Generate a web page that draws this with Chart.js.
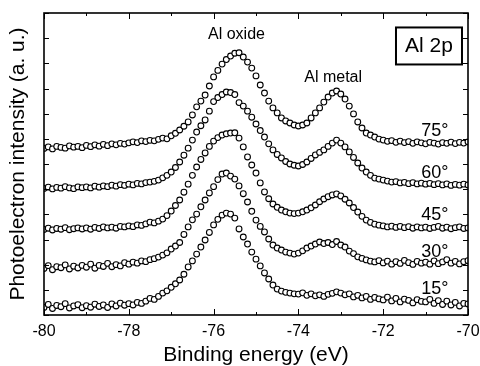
<!DOCTYPE html>
<html>
<head>
<meta charset="utf-8">
<script src="https://cdn.jsdelivr.net/npm/chart.js@4.4.0/dist/chart.umd.min.js"></script>
<style>
  html, body { margin: 0; padding: 0; background: #fff; }
</style>
</head>
<body>
<canvas id="xpsChart" width="480" height="366"></canvas>
<script>
// binding energy grid (eV)
const energy = [
  -80.0, -79.9, -79.8, -79.7, -79.6, -79.5, -79.4, -79.3, -79.2, -79.1,
  -79.0, -78.9, -78.8, -78.7, -78.6, -78.5, -78.4, -78.3, -78.2, -78.1,
  -78.0, -77.9, -77.8, -77.7, -77.6, -77.5, -77.4, -77.3, -77.2, -77.1,
  -77.0, -76.9, -76.8, -76.7, -76.6, -76.5, -76.4, -76.3, -76.2, -76.1,
  -76.0, -75.9, -75.8, -75.7, -75.6, -75.5, -75.4, -75.3, -75.2, -75.1,
  -75.0, -74.9, -74.8, -74.7, -74.6, -74.5, -74.4, -74.3, -74.2, -74.1,
  -74.0, -73.9, -73.8, -73.7, -73.6, -73.5, -73.4, -73.3, -73.2, -73.1,
  -73.0, -72.9, -72.8, -72.7, -72.6, -72.5, -72.4, -72.3, -72.2, -72.1,
  -72.0, -71.9, -71.8, -71.7, -71.6, -71.5, -71.4, -71.3, -71.2, -71.1,
  -71.0, -70.9, -70.8, -70.7, -70.6, -70.5, -70.4, -70.3, -70.2, -70.1,
  -70.0
];

// intensities (a.u., curves offset vertically)
const angle75 = [
  6.62, 6.68, 6.60, 6.70, 6.66, 6.63, 6.72, 6.67, 6.70, 6.65,
  6.74, 6.69, 6.76, 6.71, 6.78, 6.73, 6.80, 6.76, 6.82, 6.79,
  6.84, 6.88, 6.85, 6.92, 6.89, 6.94, 6.92, 6.98, 7.03, 7.00,
  7.12, 7.22, 7.35, 7.50, 7.67, 7.95, 8.27, 8.50, 8.74, 9.10,
  9.46, 9.72, 9.97, 10.15, 10.29, 10.40, 10.42, 10.25, 10.05, 9.81,
  9.50, 9.14, 8.82, 8.50, 8.23, 8.03, 7.83, 7.71, 7.63, 7.55,
  7.51, 7.55, 7.63, 7.83, 8.03, 8.23, 8.46, 8.66, 8.82, 8.90,
  8.78, 8.58, 8.30, 7.99, 7.67, 7.43, 7.23, 7.15, 7.07, 6.99,
  6.95, 6.90, 6.93, 6.86, 6.91, 6.85, 6.89, 6.82, 6.88, 6.84,
  6.80, 6.86, 6.83, 6.79, 6.85, 6.82, 6.87, 6.81, 6.86, 6.83,
  6.88
];
const angle60 = [
  5.03, 5.08, 5.01, 5.07, 5.04, 5.10, 5.05, 5.02, 5.09, 5.06,
  5.09, 5.05, 5.12, 5.08, 5.13, 5.10, 5.16, 5.12, 5.18, 5.15,
  5.20, 5.17, 5.23, 5.21, 5.26, 5.28, 5.31, 5.36, 5.45, 5.55,
  5.68, 5.86, 6.08, 6.35, 6.63, 6.95, 7.27, 7.52, 7.75, 8.10,
  8.48, 8.64, 8.76, 8.86, 8.84, 8.76, 8.44, 8.30, 8.10, 7.86,
  7.59, 7.33, 7.07, 6.80, 6.56, 6.38, 6.24, 6.10, 6.00, 5.95,
  5.92, 5.98, 6.08, 6.22, 6.36, 6.46, 6.56, 6.70, 6.83, 6.95,
  6.83, 6.68, 6.48, 6.26, 6.04, 5.84, 5.68, 5.55, 5.44, 5.40,
  5.36, 5.32, 5.28, 5.30, 5.25, 5.27, 5.22, 5.26, 5.21, 5.24,
  5.20, 5.23, 5.18, 5.22, 5.17, 5.21, 5.15, 5.19, 5.16, 5.20,
  5.17
];
const angle45 = [
  3.40, 3.45, 3.38, 3.44, 3.41, 3.47, 3.39, 3.43, 3.46, 3.42,
  3.46, 3.41, 3.48, 3.44, 3.50, 3.46, 3.49, 3.45, 3.52, 3.50,
  3.54, 3.51, 3.58, 3.56, 3.62, 3.69, 3.66, 3.73, 3.81, 3.95,
  4.13, 4.35, 4.57, 4.88, 5.20, 5.55, 5.88, 6.18, 6.44, 6.70,
  6.91, 7.05, 7.15, 7.20, 7.23, 7.24, 7.03, 6.68, 6.28, 5.96,
  5.64, 5.25, 4.89, 4.62, 4.41, 4.28, 4.17, 4.10, 4.05, 4.03,
  4.05, 4.10, 4.17, 4.26, 4.37, 4.50, 4.61, 4.70, 4.77, 4.81,
  4.73, 4.60, 4.45, 4.27, 4.09, 3.92, 3.77, 3.68, 3.61, 3.57,
  3.54, 3.50, 3.53, 3.48, 3.52, 3.47, 3.51, 3.45, 3.50, 3.46,
  3.49, 3.44, 3.48, 3.52, 3.45, 3.49, 3.43, 3.47, 3.50, 3.44,
  3.46
];
const angle30 = [
  1.85, 1.96, 1.80, 1.92, 1.88, 1.99, 1.83, 1.94, 1.87, 1.97,
  1.90, 2.02, 1.86, 1.97, 1.93, 2.05, 1.92, 2.00, 1.95, 2.08,
  2.02, 2.10, 2.06, 2.15, 2.12, 2.20, 2.24, 2.30, 2.38, 2.47,
  2.62, 2.74, 2.88, 3.20, 3.50, 3.78, 4.01, 4.30, 4.57, 4.85,
  5.10, 5.38, 5.60, 5.64, 5.52, 5.40, 5.13, 4.82, 4.49, 4.12,
  3.77, 3.52, 3.30, 3.02, 2.78, 2.66, 2.58, 2.50, 2.46, 2.42,
  2.46, 2.55, 2.66, 2.74, 2.82, 2.90, 2.84, 2.88, 2.80, 2.92,
  2.78, 2.70, 2.54, 2.44, 2.31, 2.25, 2.19, 2.14, 2.11, 2.16,
  2.07, 2.14, 2.02, 2.12, 2.05, 2.17, 2.08, 2.01, 2.13, 2.06,
  2.10, 2.02, 2.15, 2.04, 2.11, 2.20, 2.06, 2.13, 2.03, 2.12,
  2.16
];
const angle15 = [
  0.30, 0.42, 0.26, 0.38, 0.33, 0.45, 0.28, 0.36, 0.41, 0.29,
  0.37, 0.31, 0.43, 0.34, 0.40, 0.30, 0.44, 0.36, 0.47, 0.39,
  0.45, 0.40, 0.50, 0.46, 0.55, 0.66, 0.62, 0.74, 0.87, 0.96,
  1.10, 1.24, 1.39, 1.62, 1.91, 2.15, 2.42, 2.70, 2.98, 3.28,
  3.58, 3.80, 3.97, 4.05, 4.01, 3.85, 3.42, 3.10, 2.82, 2.50,
  2.22, 1.95, 1.67, 1.43, 1.19, 1.03, 0.95, 0.90, 0.87, 0.84,
  0.83, 0.88, 0.78, 0.84, 0.76, 0.80, 0.74, 0.82, 0.86, 0.92,
  0.87, 0.80, 0.84, 0.72, 0.78, 0.68, 0.74, 0.62, 0.70, 0.64,
  0.60, 0.71, 0.56, 0.66, 0.52, 0.63, 0.58, 0.48, 0.61, 0.54,
  0.52, 0.62, 0.46, 0.57, 0.42, 0.55, 0.40, 0.50, 0.36, 0.46,
  0.44
];

const angleLabels = ['75°', '60°', '45°', '30°', '15°'];
const xMinorTicks = [-79, -77, -75, -73, -71];

// where the text notes sit, in data coordinates
const angleLabelX = -70.78;
const angleLabelY = [7.31, 5.66, 3.97, 2.52, 1.05];
const notes = [
  { text: 'Al oxide', x: -75.46, y: 11.13 },
  { text: 'Al metal', x: -73.18, y: 9.44 }
];
const panelTag = { text: 'Al 2p', x: -70.92, y: 10.71 };

const FONT = '"Liberation Sans", Arial, Helvetica, sans-serif';

const series = [angle75, angle60, angle45, angle30, angle15];
const datasets = series.map((vals, i) => ({
  label: angleLabels[i],
  data: energy.map((e, j) => ({ x: e, y: vals[j] })),
  showLine: false,
  pointStyle: 'circle',
  pointRadius: 2.9,
  pointBorderWidth: 1.1,
  pointBorderColor: '#000',
  pointBackgroundColor: '#fff'
}));

// inward ticks, box frame and text notes
const frameAndNotes = {
  id: 'frameAndNotes',
  afterDatasetsDraw(chart) {
    const { ctx, chartArea: a, scales: { x, y } } = chart;
    ctx.save();
    ctx.strokeStyle = '#000';
    ctx.lineWidth = 1;
    ctx.beginPath();
    x.ticks.forEach(t => {
      const px = Math.round(x.getPixelForValue(t.value)) + 0.5;
      ctx.moveTo(px, a.bottom); ctx.lineTo(px, a.bottom - 6);
      ctx.moveTo(px, a.top); ctx.lineTo(px, a.top + 6);
    });
    xMinorTicks.forEach(v => {
      const px = Math.round(x.getPixelForValue(v)) + 0.5;
      ctx.moveTo(px, a.bottom); ctx.lineTo(px, a.bottom - 3);
      ctx.moveTo(px, a.top); ctx.lineTo(px, a.top + 3);
    });
    y.ticks.forEach(t => {
      const py = Math.round(y.getPixelForValue(t.value)) + 0.5;
      ctx.moveTo(a.left, py); ctx.lineTo(a.left + 5, py);
      ctx.moveTo(a.right, py); ctx.lineTo(a.right - 5, py);
    });
    ctx.stroke();
    ctx.lineWidth = 1.6;
    ctx.strokeRect(a.left, a.top, a.right - a.left, a.bottom - a.top);

    ctx.fillStyle = '#000';
    ctx.textAlign = 'center';
    ctx.textBaseline = 'middle';

    ctx.font = '16px ' + FONT;
    notes.forEach(n => {
      ctx.fillText(n.text, x.getPixelForValue(n.x), y.getPixelForValue(n.y));
    });

    ctx.font = '18px ' + FONT;
    angleLabels.forEach((lab, i) => {
      ctx.fillText(lab, x.getPixelForValue(angleLabelX), y.getPixelForValue(angleLabelY[i]));
    });

    const tx = x.getPixelForValue(panelTag.x);
    const ty = y.getPixelForValue(panelTag.y);
    ctx.fillStyle = '#fff';
    ctx.fillRect(tx - 33, ty - 18, 66, 37);
    ctx.lineWidth = 2;
    ctx.strokeRect(tx - 33, ty - 18, 66, 37);
    ctx.fillStyle = '#000';
    ctx.font = '21px ' + FONT;
    ctx.fillText(panelTag.text, tx, ty + 1);
    ctx.restore();
  }
};

const ctx = document.getElementById('xpsChart').getContext('2d');
const chart = new Chart(ctx, {
  type: 'scatter',
  data: { datasets: datasets },
  options: {
    responsive: false,
    devicePixelRatio: 1,
    animation: false,
    layout: { padding: { top: 13, right: 12, left: 0, bottom: 0 } },
    plugins: {
      legend: { display: false },
      tooltip: { enabled: false }
    },
    scales: {
      x: {
        type: 'linear',
        min: -80,
        max: -70,
        afterFit: s => {
          s.height = 51;
          s.paddingLeft = 0;
          s.paddingRight = 0;
        },
        grid: { display: false, drawTicks: false },
        border: { display: false },
        ticks: {
          stepSize: 2,
          padding: 7,
          color: '#000',
          font: { family: FONT, size: 16 }
        },
        title: {
          display: true,
          text: 'Binding energy (eV)',
          color: '#000',
          font: { family: FONT, size: 21, lineHeight: 1 },
          padding: { top: 0, bottom: 0 }
        }
      },
      y: {
        type: 'linear',
        min: 0,
        max: 12,
        afterFit: s => { s.width = 44; },
        grid: { display: false, drawTicks: false },
        border: { display: false },
        ticks: { display: false, stepSize: 1 },
        title: {
          display: true,
          text: 'Photoelectron intensity (a. u.)',
          color: '#000',
          font: { family: FONT, size: 21, lineHeight: 1 },
          padding: { top: 8, bottom: 0 }
        }
      }
    }
  },
  plugins: [frameAndNotes]
});
</script>
</body>
</html>
